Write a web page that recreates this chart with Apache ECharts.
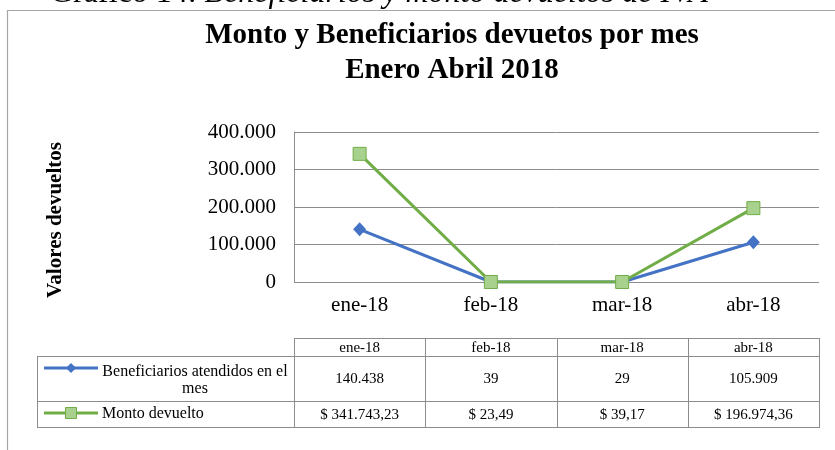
<!DOCTYPE html>
<html>
<head>
<meta charset="utf-8">
<script src="https://cdn.jsdelivr.net/npm/echarts@6/dist/echarts.min.js"></script>
<style>
html,body{margin:0;padding:0;background:#fff;}
#chart{width:835px;height:450px;}
</style>
</head>
<body>
<div id="chart"></div>
<script>
// ---- data ----
const categories = ['ene-18', 'feb-18', 'mar-18', 'abr-18'];
const beneficiarios = [140438, 39, 29, 105909];
const monto = [341743.23, 23.49, 39.17, 196974.36];
const seriesNames = ['Beneficiarios atendidos en el mes', 'Monto devuelto'];
const yTickLabels = ['0', '100.000', '200.000', '300.000', '400.000'];
const yMax = 400000;
const yStep = 100000;
const captionPrefix = 'Gráfico 14: ';
const captionRest = 'Beneficiarios y monto devueltos de IVA';
const titleText = 'Monto y Beneficiarios devuetos por mes\nEnero Abril 2018';
const yAxisTitle = 'Valores devueltos';

// ---- formatting helpers ----
function groupThousands(s) {
  return s.replace(/\B(?=(\d{3})+(?!\d))/g, '.');
}
function fmtInt(v) { return groupThousands(String(Math.round(v))); }
function fmtMoney(v) {
  const parts = v.toFixed(2).split('.');
  return '$ ' + groupThousands(parts[0]) + ',' + parts[1];
}

const SERIF = '"Liberation Serif", "Times New Roman", serif';
const BLUE = '#4472C4';
const GREEN = '#70AD47';
const GREEN_FILL = '#A9D18E';
const GRID_GRAY = '#8c8c8c';
const TABLE_GRAY = '#8c8c8c';

const chart = echarts.init(document.getElementById('chart'));

const option = {
  backgroundColor: '#fff',
  animation: false,
  title: {
    text: titleText,
    left: 452,
    top: 18,
    padding: 0,
    textAlign: 'center',
    textStyle: {
      fontFamily: SERIF,
      fontWeight: 'bold',
      fontSize: 29,
      lineHeight: 35,
      color: '#000'
    }
  },
  grid: {
    left: 294,
    right: 16,
    top: 132,
    bottom: 168,
    containLabel: false
  },
  xAxis: {
    type: 'category',
    data: categories,
    boundaryGap: true,
    axisLine: { show: false },
    axisTick: { show: false },
    axisLabel: {
      margin: 13,
      fontFamily: SERIF,
      fontSize: 21,
      color: '#000'
    }
  },
  yAxis: {
    type: 'value',
    min: 0,
    max: yMax,
    interval: yStep,
    axisLine: { show: true, lineStyle: { color: GRID_GRAY, width: 1 } },
    axisTick: { show: false },
    splitLine: { show: true, lineStyle: { color: GRID_GRAY, width: 1 } },
    axisLabel: {
      margin: 18,
      fontFamily: SERIF,
      fontSize: 21,
      color: '#000',
      formatter: function (v) { return yTickLabels[Math.round(v / yStep)]; }
    }
  },
  series: [
    {
      name: seriesNames[0],
      type: 'line',
      data: beneficiarios,
      symbol: 'diamond',
      symbolSize: [13, 14],
      lineStyle: { color: BLUE, width: 3 },
      itemStyle: { color: BLUE },
      z: 2
    },
    {
      name: seriesNames[1],
      type: 'line',
      data: monto,
      symbol: 'rect',
      symbolSize: 13,
      lineStyle: { color: GREEN, width: 3 },
      itemStyle: { color: GREEN_FILL, borderColor: GREEN, borderWidth: 1 },
      z: 3
    }
  ]
};
chart.setOption(option);

// ---- table + decorations built from the axis scale ----
const centers = categories.map((c, i) => chart.convertToPixel({ xAxisIndex: 0 }, i));
const band = centers[1] - centers[0];
const colL = centers.map(c => c - band / 2);
const colR = centers.map(c => c + band / 2);
const tLeft = 37, tDataLeft = colL[0], tRight = colR[colR.length - 1];
const rowY = [338, 356, 401, 427];

const g = [];
function hline(x1, x2, y) {
  g.push({ type: 'line', silent: true, shape: { x1: x1, y1: y + 0.5, x2: x2, y2: y + 0.5 }, style: { stroke: TABLE_GRAY, lineWidth: 1 } });
}
function vline(x, y1, y2) {
  g.push({ type: 'line', silent: true, shape: { x1: Math.round(x) + 0.5, y1: y1, x2: Math.round(x) + 0.5, y2: y2 }, style: { stroke: TABLE_GRAY, lineWidth: 1 } });
}
function txt(s, x, y, align, size, extra) {
  g.push(Object.assign({
    type: 'text', silent: true, x: x, y: y,
    style: Object.assign({
      text: s, fill: '#000', font: size + 'px ' + SERIF,
      textAlign: align, textVerticalAlign: 'middle', align: align, verticalAlign: 'middle'
    }, extra || {})
  }));
}

// outer chart border
g.push({ type: 'rect', silent: true, shape: { x: 7.5, y: 10.5, width: 900, height: 600 }, style: { fill: null, stroke: '#a6a6a6', lineWidth: 1.2 } });

// caption above the chart (cut by the top edge)
g.push({
  type: 'text', silent: true, x: 50, y: -6,
  style: {
    text: '{n|' + captionPrefix + '}{i|' + captionRest + '}',
    rich: {
      n: { fontFamily: SERIF, fontSize: 32, fill: '#000', color: '#000' },
      i: { fontFamily: SERIF, fontSize: 32, fontStyle: 'italic', fill: '#000', color: '#000' }
    },
    textVerticalAlign: 'middle', verticalAlign: 'middle'
  }
});

// y axis title
g.push({
  type: 'text', silent: true, x: 56, y: 220, rotation: Math.PI / 2,
  style: {
    text: yAxisTitle, fill: '#000', font: 'bold 21px ' + SERIF,
    textAlign: 'center', textVerticalAlign: 'middle', align: 'center', verticalAlign: 'middle'
  }
});

// table grid lines
hline(tDataLeft, tRight, rowY[0]);
hline(tLeft, tRight, rowY[1]);
hline(tLeft, tRight, rowY[2]);
hline(tLeft, tRight, rowY[3]);
vline(tLeft, rowY[1], rowY[3] + 1);
colL.forEach(x => vline(x, rowY[0], rowY[3] + 1));
vline(tRight, rowY[0], rowY[3] + 1);

// header
categories.forEach((c, i) => txt(c, centers[i], (rowY[0] + rowY[1]) / 2 + 1, 'center', 15));
// values
beneficiarios.forEach((v, i) => txt(fmtInt(v), centers[i], (rowY[1] + rowY[2]) / 2 + 1, 'center', 15));
monto.forEach((v, i) => txt(fmtMoney(v), centers[i], (rowY[2] + rowY[3]) / 2 + 1, 'center', 15));

// legend keys in table
const r1y = 368, r2y = 413;
g.push({ type: 'line', silent: true, shape: { x1: 44, y1: r1y, x2: 98, y2: r1y }, style: { stroke: BLUE, lineWidth: 3 } });
g.push({ type: 'polygon', silent: true, shape: { points: [[71, r1y - 5], [76, r1y], [71, r1y + 5], [66, r1y]] }, style: { fill: BLUE } });
g.push({ type: 'line', silent: true, shape: { x1: 44, y1: r2y, x2: 98, y2: r2y }, style: { stroke: GREEN, lineWidth: 3 } });
g.push({ type: 'rect', silent: true, shape: { x: 65.5, y: r2y - 5.5, width: 11, height: 11 }, style: { fill: GREEN_FILL, stroke: GREEN, lineWidth: 1 } });

// row labels
const words = seriesNames[0].split(' ');
const firstLine = words.slice(0, words.length - 1).join(' ');
const secondLine = words[words.length - 1];
txt(firstLine, 195, 372, 'center', 16);
txt(secondLine, 195, 389, 'center', 16);
txt(seriesNames[1], 102, 414, 'left', 16);

chart.setOption({ graphic: g });
</script>
</body>
</html>
